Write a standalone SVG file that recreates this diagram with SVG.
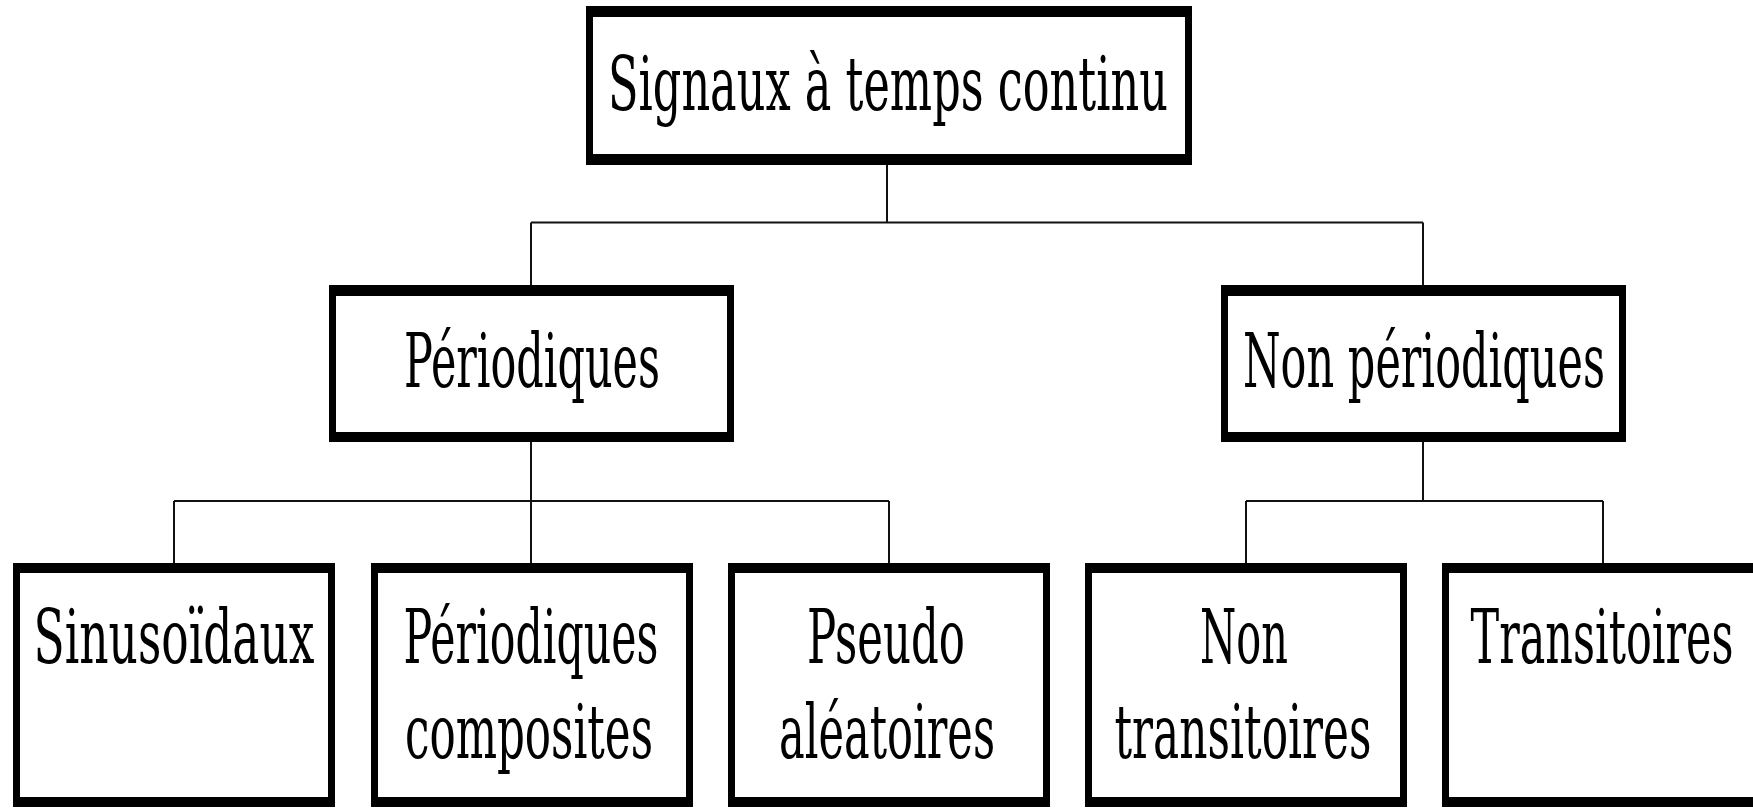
<svg xmlns="http://www.w3.org/2000/svg" width="1753" height="808" viewBox="0 0 1753 808">
  <style>
    .frame { fill: #000; }
    .inner { fill: #fff; }
    .lbl { font-family: "DejaVu Serif", "Liberation Serif", serif; font-size: 74px; fill: #000; text-anchor: middle; }
    .wire { stroke: #111; stroke-width: 2; fill: none; }
  </style>
  <rect width="1753" height="808" fill="#fff"/>

  <!-- tree connectors -->
  <g id="connectors">
    <path class="wire" d="M887,165 V222.5 M531,222.5 H1423 M531,222.5 V285 M1423,222.5 V285"/>
    <path class="wire" d="M531,442 V563 M174,501 H889 M174,501 V563 M889,501 V563"/>
    <path class="wire" d="M1423,442 V501 M1246,501 H1603 M1246,501 V563 M1603,501 V563"/>
  </g>

  <!-- root -->
  <g id="root">
    <rect class="frame" x="586" y="6" width="606" height="159"/>
    <rect class="inner" x="593" y="17" width="592" height="137"/>
    <text class="lbl" x="888" y="110" textLength="560" lengthAdjust="spacingAndGlyphs">Signaux à temps continu</text>
  </g>

  <!-- second level -->
  <g id="periodiques">
    <rect class="frame" x="329" y="285" width="405" height="157"/>
    <rect class="inner" x="336" y="296" width="391" height="136"/>
    <text class="lbl" x="532" y="387" textLength="256" lengthAdjust="spacingAndGlyphs">Périodiques</text>
  </g>
  <g id="non-periodiques">
    <rect class="frame" x="1221" y="285" width="405" height="157"/>
    <rect class="inner" x="1228" y="296" width="391" height="136"/>
    <text class="lbl" x="1424" y="387" textLength="362" lengthAdjust="spacingAndGlyphs">Non périodiques</text>
  </g>

  <!-- leaves -->
  <g id="sinusoidaux">
    <rect class="frame" x="13" y="563" width="322" height="244"/>
    <rect class="inner" x="20" y="573" width="308" height="224"/>
    <text class="lbl" x="174" y="663" textLength="281" lengthAdjust="spacingAndGlyphs">Sinusoïdaux</text>
  </g>
  <g id="periodiques-composites">
    <rect class="frame" x="371" y="563" width="322" height="244"/>
    <rect class="inner" x="378" y="573" width="308" height="224"/>
    <text class="lbl" x="531" y="663" textLength="255" lengthAdjust="spacingAndGlyphs">Périodiques</text>
    <text class="lbl" x="529" y="758" textLength="248" lengthAdjust="spacingAndGlyphs">composites</text>
  </g>
  <g id="pseudo-aleatoires">
    <rect class="frame" x="728" y="563" width="322" height="244"/>
    <rect class="inner" x="735" y="573" width="308" height="224"/>
    <text class="lbl" x="886" y="663" textLength="158" lengthAdjust="spacingAndGlyphs">Pseudo</text>
    <text class="lbl" x="887" y="758" textLength="216" lengthAdjust="spacingAndGlyphs">aléatoires</text>
  </g>
  <g id="non-transitoires">
    <rect class="frame" x="1085" y="563" width="322" height="244"/>
    <rect class="inner" x="1092" y="573" width="308" height="224"/>
    <text class="lbl" x="1244" y="663" textLength="88" lengthAdjust="spacingAndGlyphs">Non</text>
    <text class="lbl" x="1243" y="758" textLength="257" lengthAdjust="spacingAndGlyphs">transitoires</text>
  </g>
  <g id="transitoires">
    <rect class="frame" x="1442" y="563" width="322" height="244"/>
    <rect class="inner" x="1449" y="573" width="308" height="224"/>
    <text class="lbl" x="1602" y="663" textLength="263" lengthAdjust="spacingAndGlyphs">Transitoires</text>
  </g>
</svg>
